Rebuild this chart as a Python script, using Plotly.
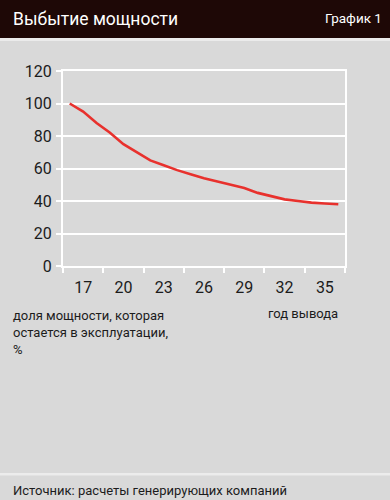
import plotly.graph_objects as go

# ---- data ----
years = [16, 17, 18, 19, 20, 21, 22, 23, 24, 25, 26, 27, 28, 29, 30, 31, 32, 33, 34, 35, 36]
share = [100, 95, 88, 82, 75, 70, 65, 62, 59, 56.5, 54, 52, 50, 48, 45, 43, 41, 40, 39, 38.5, 38]
x_tick_labels = ["17", "20", "23", "26", "29", "32", "35"]
x_tick_vals = [17, 20, 23, 26, 29, 32, 35]
title_text = "Выбытие мощности"
badge_text = "График 1"
y_note = ["доля мощности, которая", "остается в эксплуатации,", "%"]
x_note = "год вывода"
source_text = "Источник: расчеты генерирующих компаний"

W, H = 390, 500
L, R, T, B = 63, 45, 71, 234
PW, PH = W - L - R, H - T - B

def px(x):
    return (x - L) / PW

def py(y):
    return (H - B - y) / PH

FONT = "Roboto, sans-serif"
BG = "#d9d9d9"
TXT = "#1c1c1c"

fig = go.Figure()
fig.add_trace(go.Scatter(
    x=years, y=share, mode="lines",
    line=dict(color="#e8312d", width=2.6, shape="linear"),
    hoverinfo="skip", showlegend=False,
))

shapes = [
    dict(type="rect", xref="paper", yref="paper", x0=px(-5), x1=px(W + 5), y0=py(38), y1=py(-5),
         fillcolor="#1e0806", line=dict(width=0), layer="below"),
    dict(type="rect", xref="paper", yref="paper", x0=px(-5), x1=px(W + 5), y0=py(41), y1=py(38),
         fillcolor="#ebebeb", line=dict(width=0), layer="below"),
    dict(type="rect", xref="paper", yref="paper", x0=px(-5), x1=px(W + 5), y0=py(475.5), y1=py(473),
         fillcolor="#ececec", line=dict(width=0), layer="below"),
]

NOTE = 13
annotations = [
    dict(text=title_text, x=px(11), y=py(19), xref="paper", yref="paper",
         xanchor="left", yanchor="middle", showarrow=False,
         font=dict(family=FONT, size=17.5, color="#ffffff")),
    dict(text=badge_text, x=px(384), y=py(18), xref="paper", yref="paper",
         xanchor="right", yanchor="middle", showarrow=False,
         font=dict(family=FONT, size=13.5, color="#ffffff")),
    dict(text=x_note, x=px(266), y=py(313), xref="paper", yref="paper",
         xanchor="left", yanchor="middle", showarrow=False,
         font=dict(family=FONT, size=NOTE, color=TXT)),
    dict(text=source_text, x=px(11), y=py(490), xref="paper", yref="paper",
         xanchor="left", yanchor="middle", showarrow=False,
         font=dict(family=FONT, size=NOTE, color=TXT)),
    dict(text="<br>".join(y_note), x=px(11), y=py(315.5 + 1.3 * NOTE), xref="paper", yref="paper",
         xanchor="left", yanchor="middle", align="left", showarrow=False,
         font=dict(family=FONT, size=NOTE, color=TXT)),
]

fig.update_layout(
    width=W, height=H,
    margin=dict(l=L, r=R, t=T, b=B, pad=0),
    paper_bgcolor=BG, plot_bgcolor=BG,
    shapes=shapes, annotations=annotations,
    xaxis=dict(
        range=[15.5, 36.5], tickmode="array", tickvals=x_tick_vals, ticktext=x_tick_labels,
        ticks="", showgrid=False, zeroline=False,
        showline=True, linecolor="#ffffff", linewidth=2, mirror=True,
        tickfont=dict(family=FONT, size=16, color=TXT),
        ticklabelstandoff=6,
        minor=dict(tickmode="array", tickvals=[15.5, 18.5, 21.5, 24.5, 27.5, 30.5, 33.5, 36.5],
                   ticks="outside", ticklen=5, tickcolor="#ffffff", tickwidth=2, showgrid=False),
        fixedrange=True,
    ),
    yaxis=dict(
        range=[0, 120], tickmode="linear", tick0=0, dtick=20,
        ticks="outside", ticklen=5, tickcolor="#ffffff", tickwidth=2,
        showgrid=True, gridcolor="#ffffff", gridwidth=2, zeroline=False,
        showline=True, linecolor="#ffffff", linewidth=2, mirror=True,
        tickfont=dict(family=FONT, size=16, color=TXT),
        ticklabelstandoff=1,
        fixedrange=True,
    ),
)

fig.write_html(
    "out.html",
    config={"displayModeBar": False},
    post_script="document.body.style.margin='0';document.body.style.padding='0';document.body.style.background='#d9d9d9';",
)
